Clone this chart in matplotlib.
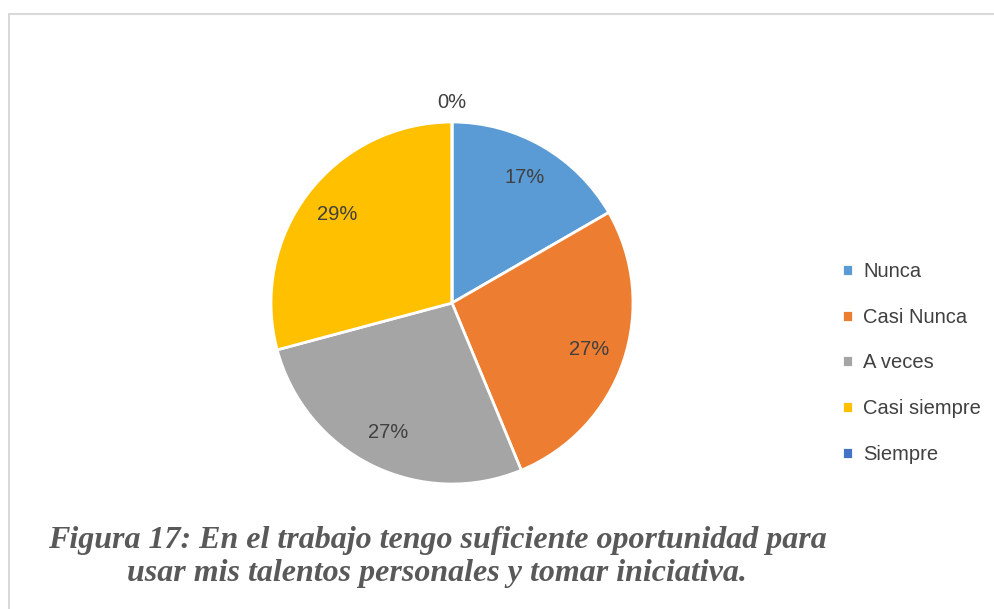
import matplotlib.pyplot as plt
from matplotlib.patches import Rectangle
import numpy as np

# respuestas por categoria
categorias = ['Nunca', 'Casi Nunca', 'A veces', 'Casi siempre', 'Siempre']
respuestas = [8, 13, 13, 14, 0]
colores = ['#5b9bd5', '#ed7d31', '#a5a5a5', '#ffc000', '#4472c4']
titulo = ('Figura 17: En el trabajo tengo suficiente oportunidad para\n'
          'usar mis talentos personales y tomar iniciativa.')

fig = plt.figure(figsize=(9.95, 6.09), dpi=100)

# marco gris del area del grafico
fig.patches.append(Rectangle((9 / 995, -0.1), 1.1, 0.1 + (1 - 14 / 609),
                             transform=fig.transFigure, fill=False,
                             edgecolor='#d9d9d9', linewidth=1.5))

ax = fig.add_axes([271 / 995, 1 - 484 / 609, 362 / 995, 362 / 609])
wedges, texts, autotexts = ax.pie(
    respuestas, colors=colores, startangle=90, counterclock=False,
    autopct=lambda p: f'{p:.0f}%', pctdistance=0.8,
    wedgeprops=dict(edgecolor='white', linewidth=2),
    textprops=dict(color='#404040', fontsize=14.5, family='Liberation Sans'))
ax.set_xlim(-1, 1)
ax.set_ylim(-1, 1)
ax.set_aspect('equal')

# la etiqueta del 0% va fuera del pastel
for w, t in zip(wedges, autotexts):
    if w.theta2 - w.theta1 < 1e-6:
        ang = np.deg2rad(w.theta1)
        t.set_position((1.11 * np.cos(ang), 1.11 * np.sin(ang)))

fig.legend(wedges, categorias, loc='center left',
           bbox_to_anchor=(842 / 995, 1 - 363 / 609), frameon=False,
           borderpad=0, borderaxespad=0, handlelength=0.55, handleheight=0.55,
           handletextpad=0.5, labelspacing=1.33,
           prop=dict(family='Liberation Sans', size=14.5), labelcolor='#404040')

fig.text(437 / 995, 1 - 557 / 609, titulo, ha='center', va='center',
         family='Liberation Serif', style='italic', weight='bold',
         fontsize=23, color='#595959', linespacing=1.2)

fig.savefig('out.png', dpi=100)
